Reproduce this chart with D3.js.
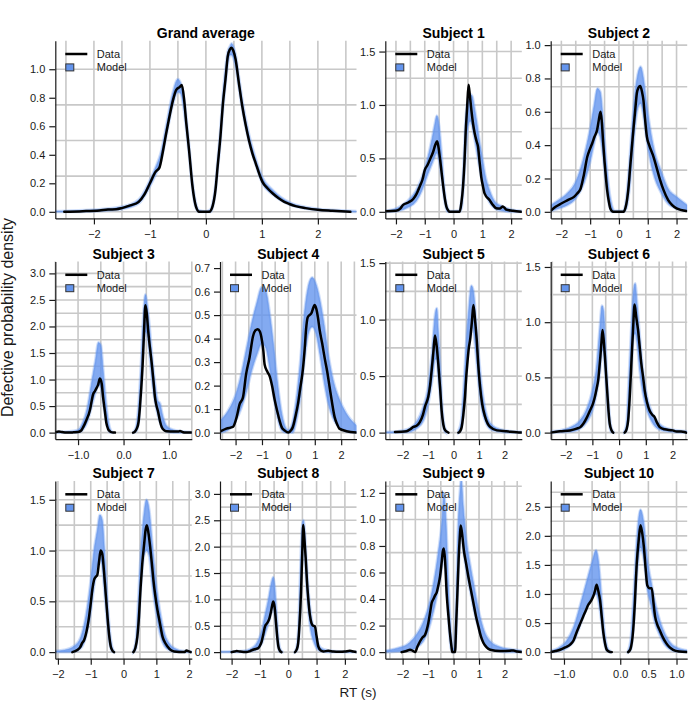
<!DOCTYPE html>
<html><head><meta charset="utf-8">
<script src="https://cdn.jsdelivr.net/npm/d3@7"></script>
<style>body{margin:0;background:#fff}svg{display:block}</style>
</head><body>
<script>
// ---------- DATA ----------
const titles = ["Grand average","Subject 1","Subject 2","Subject 3","Subject 4","Subject 5","Subject 6","Subject 7","Subject 8","Subject 9","Subject 10"];
const xLims = [[-2.69,2.69],[-2.37,2.37],[-2.37,2.37],[-1.5,1.5],[-2.59,2.58],[-2.68,2.68],[-2.56,2.55],[-2.08,2.08],[-2.41,2.41],[-2.68,2.68],[-1.236,1.19]];
const yMaxes = [1.154,1.54,0.987,3.1,0.70,1.456,1.49,1.62,3.12,1.24,2.83];
const xTickVals = [[-2,-1,0,1,2],[-2,-1,0,1,2],[-2,-1,0,1,2],[-1,0,1],[-2,-1,0,1,2],[-2,-1,0,1,2],[-2,-1,0,1,2],[-2,-1,0,1,2],[-2,-1,0,1,2],[-2,-1,0,1,2],[-1,0,0.5,1]];
const xTickFmt = ["d","d","d",".1f","d","d","d","d","d","d",".1f"];
const yTickVals = [[0,0.2,0.4,0.6,0.8,1.0],[0,0.5,1.0,1.5],[0,0.2,0.4,0.6,0.8,1.0],[0,0.5,1,1.5,2,2.5,3],[0,0.1,0.2,0.3,0.4,0.5,0.6,0.7],[0,0.5,1,1.5],[0,0.5,1,1.5],[0,0.5,1,1.5],[0,0.5,1,1.5,2,2.5,3],[0,0.2,0.4,0.6,0.8,1.0,1.2],[0,0.5,1,1.5,2,2.5]];
const legendLabels = ["Data","Model"];
const xLabel = "RT (s)";
const yLabel = "Defective probability density";

// observed density curves [x, density]; null = break
const gaData = [[-2.53,0],[-2.2,0.004],[-1.9,0.01],[-1.75,0.016],[-1.6,0.018],[-1.5,0.026],[-1.35,0.045],[-1.2,0.07],[-1.1,0.12],[-1.0,0.2],[-0.9,0.28],[-0.83,0.31],[-0.77,0.42],[-0.71,0.55],[-0.65,0.67],[-0.59,0.78],[-0.53,0.855],[-0.47,0.875],[-0.43,0.89],[-0.39,0.79],[-0.35,0.62],[-0.30,0.43],[-0.24,0.18],[-0.18,0.04],[-0.12,0],[0.06,0],[0.12,0.04],[0.17,0.15],[0.21,0.32],[0.26,0.53],[0.30,0.74],[0.35,0.93],[0.39,1.09],[0.43,1.14],[0.46,1.15],[0.49,1.13],[0.53,1.07],[0.59,0.90],[0.65,0.74],[0.71,0.61],[0.77,0.50],[0.83,0.41],[0.89,0.34],[0.95,0.27],[1.01,0.21],[1.1,0.165],[1.19,0.13],[1.3,0.095],[1.4,0.07],[1.49,0.055],[1.6,0.04],[1.78,0.026],[2.0,0.014],[2.26,0.007],[2.58,0]];
const s1Data = [[-2.37,0.005],[-2.0,0.01],[-1.85,0.03],[-1.75,0.065],[-1.57,0.087],[-1.4,0.12],[-1.28,0.17],[-1.17,0.24],[-1.08,0.3],[-1.0,0.39],[-0.9,0.44],[-0.82,0.49],[-0.71,0.56],[-0.63,0.63],[-0.57,0.66],[-0.52,0.6],[-0.48,0.52],[-0.42,0.38],[-0.36,0.24],[-0.3,0.12],[-0.25,0.05],[-0.18,0.01],[-0.13,0],[0.21,0],[0.27,0.08],[0.33,0.24],[0.38,0.47],[0.42,0.74],[0.47,0.97],[0.52,1.19],[0.57,1.08],[0.62,0.95],[0.68,0.82],[0.73,0.74],[0.8,0.66],[0.85,0.61],[0.9,0.48],[0.96,0.33],[1.02,0.24],[1.08,0.17],[1.25,0.11],[1.38,0.06],[1.48,0.034],[1.6,0.03],[1.71,0.05],[1.78,0.035],[1.83,0.02],[2.06,0.01],[2.35,0]];
const s2Data = [[-2.34,0.01],[-2.2,0.03],[-2.0,0.05],[-1.78,0.07],[-1.56,0.09],[-1.45,0.11],[-1.33,0.14],[-1.22,0.22],[-1.1,0.33],[-1.0,0.38],[-0.93,0.41],[-0.85,0.45],[-0.76,0.49],[-0.7,0.55],[-0.64,0.6],[-0.6,0.55],[-0.55,0.42],[-0.5,0.3],[-0.45,0.2],[-0.41,0.13],[-0.35,0.06],[-0.3,0.02],[-0.2,0],[0.16,0],[0.22,0.02],[0.28,0.07],[0.34,0.16],[0.39,0.27],[0.45,0.39],[0.51,0.51],[0.57,0.62],[0.62,0.71],[0.68,0.745],[0.74,0.755],[0.8,0.72],[0.85,0.67],[0.9,0.57],[0.97,0.45],[1.05,0.4],[1.2,0.33],[1.3,0.27],[1.43,0.19],[1.55,0.13],[1.71,0.07],[1.85,0.04],[2.0,0.02],[2.34,0.005]];
const s3Data = [[-1.49,0.01],[-1.42,0.02],[-1.35,0.01],[-1.26,0],[-1.1,0.005],[-1.0,0.01],[-0.93,0.04],[-0.89,0.1],[-0.82,0.23],[-0.74,0.42],[-0.7,0.6],[-0.67,0.72],[-0.63,0.78],[-0.6,0.83],[-0.56,0.9],[-0.52,1.02],[-0.48,0.92],[-0.45,0.67],[-0.41,0.4],[-0.375,0.17],[-0.34,0.07],[-0.3,0.025],[-0.25,0.005],[-0.19,0],null,[0.21,0],[0.25,0.02],[0.29,0.075],[0.33,0.2],[0.36,0.48],[0.39,0.85],[0.42,1.3],[0.45,1.9],[0.48,2.4],[0.51,2.25],[0.54,1.93],[0.58,1.6],[0.62,1.3],[0.66,0.95],[0.69,0.67],[0.72,0.52],[0.76,0.39],[0.8,0.22],[0.84,0.1],[0.9,0.04],[0.95,0.025],[1.1,0.02],[1.2,0.02],[1.24,0.03],[1.3,0.01],[1.35,0],[1.5,0]];
const s4Data = [[-2.54,0.007],[-2.35,0.017],[-2.1,0.024],[-1.95,0.07],[-1.85,0.12],[-1.72,0.15],[-1.6,0.25],[-1.47,0.32],[-1.34,0.41],[-1.25,0.435],[-1.16,0.44],[-1.08,0.43],[-1.03,0.41],[-0.95,0.35],[-0.9,0.29],[-0.8,0.26],[-0.71,0.24],[-0.62,0.2],[-0.52,0.14],[-0.42,0.09],[-0.33,0.05],[-0.24,0.02],[-0.15,0.01],[0,0],[0.1,0.01],[0.17,0.024],[0.27,0.07],[0.36,0.12],[0.45,0.19],[0.55,0.27],[0.62,0.36],[0.67,0.44],[0.73,0.49],[0.8,0.5],[0.88,0.51],[0.94,0.53],[0.99,0.543],[1.05,0.53],[1.12,0.49],[1.18,0.44],[1.28,0.38],[1.37,0.32],[1.47,0.26],[1.56,0.195],[1.65,0.13],[1.75,0.067],[1.85,0.035],[1.93,0.017],[2.2,0.006],[2.57,0]];
const s5Data = [[-2.3,0.006],[-1.84,0.012],[-1.7,0.03],[-1.58,0.05],[-1.45,0.06],[-1.32,0.095],[-1.2,0.16],[-1.12,0.23],[-0.99,0.32],[-0.92,0.42],[-0.86,0.55],[-0.79,0.72],[-0.73,0.86],[-0.67,0.78],[-0.6,0.61],[-0.53,0.4],[-0.47,0.2],[-0.4,0.07],[-0.33,0.02],[-0.2,0],null,[0.19,0],[0.25,0.01],[0.32,0.05],[0.38,0.15],[0.45,0.32],[0.5,0.5],[0.54,0.61],[0.6,0.75],[0.65,0.82],[0.72,0.98],[0.78,1.13],[0.85,0.98],[0.91,0.82],[0.97,0.6],[1.04,0.41],[1.12,0.26],[1.24,0.14],[1.34,0.08],[1.44,0.05],[1.7,0.02],[2.09,0.012],[2.48,0.003],[2.68,0]];
const s6Data = [[-2.56,0],[-2.21,0.012],[-1.84,0.02],[-1.59,0.036],[-1.45,0.05],[-1.34,0.08],[-1.2,0.14],[-1.09,0.2],[-0.98,0.26],[-0.91,0.32],[-0.84,0.4],[-0.78,0.48],[-0.74,0.58],[-0.7,0.69],[-0.66,0.82],[-0.62,0.93],[-0.57,0.82],[-0.53,0.69],[-0.48,0.5],[-0.43,0.32],[-0.39,0.18],[-0.35,0.08],[-0.28,0.02],[-0.22,0],null,[0.21,0],[0.28,0.03],[0.34,0.11],[0.4,0.33],[0.46,0.63],[0.52,0.92],[0.58,1.16],[0.64,1.05],[0.71,0.93],[0.77,0.78],[0.83,0.63],[0.9,0.5],[0.96,0.38],[1.05,0.27],[1.14,0.2],[1.25,0.16],[1.33,0.14],[1.42,0.09],[1.52,0.05],[1.7,0.03],[2.01,0.02],[2.15,0.01],[2.32,0.01],[2.45,0.005],[2.51,0]];
const s7Data = [[-1.56,0],[-1.41,0.02],[-1.32,0.05],[-1.26,0.09],[-1.2,0.12],[-1.1,0.25],[-1.05,0.35],[-1.0,0.48],[-0.95,0.62],[-0.9,0.71],[-0.85,0.74],[-0.8,0.76],[-0.75,0.88],[-0.7,1.0],[-0.65,0.97],[-0.6,0.81],[-0.55,0.6],[-0.49,0.35],[-0.44,0.17],[-0.39,0.056],[-0.33,0.01],[-0.29,0],null,[0.3,0],[0.36,0.04],[0.42,0.15],[0.47,0.35],[0.52,0.64],[0.57,0.87],[0.63,1.07],[0.67,1.2],[0.71,1.25],[0.76,1.17],[0.81,1.04],[0.86,0.88],[0.91,0.71],[0.97,0.55],[1.03,0.42],[1.1,0.3],[1.19,0.15],[1.27,0.09],[1.34,0.056],[1.44,0.02],[1.54,0.007],[1.85,0],[1.92,0.016],[1.97,0.01],[2.05,0]];
const s8Data = [[-2.0,0],[-1.9,0.01],[-1.82,0.02],[-1.7,0.01],[-1.47,0],[-1.35,0.02],[-1.24,0.045],[-1.15,0.06],[-1.06,0.076],[-1.0,0.12],[-0.94,0.2],[-0.88,0.34],[-0.82,0.49],[-0.76,0.54],[-0.71,0.58],[-0.66,0.65],[-0.62,0.74],[-0.57,0.88],[-0.53,0.96],[-0.48,0.85],[-0.44,0.61],[-0.4,0.35],[-0.35,0.11],[-0.3,0.03],[-0.24,0],null,[0.24,0],[0.3,0.05],[0.35,0.17],[0.4,0.55],[0.45,1.12],[0.49,1.8],[0.53,2.41],[0.57,2.15],[0.62,1.75],[0.66,1.35],[0.71,0.99],[0.76,0.72],[0.82,0.55],[0.88,0.5],[0.94,0.49],[1.0,0.3],[1.06,0.11],[1.15,0.03],[1.24,0.013],[1.41,0.025],[1.59,0.01],[1.8,0.005],[2.0,0.01],[2.18,0.025],[2.3,0.01],[2.41,0]];
const s9Data = [[-2.04,0],[-1.85,0.008],[-1.71,0.018],[-1.6,0.01],[-1.51,0],[-1.42,0.04],[-1.32,0.08],[-1.22,0.11],[-1.12,0.13],[-1.05,0.17],[-0.99,0.22],[-0.92,0.3],[-0.86,0.37],[-0.79,0.4],[-0.72,0.43],[-0.66,0.45],[-0.6,0.5],[-0.53,0.57],[-0.47,0.67],[-0.42,0.76],[-0.38,0.78],[-0.33,0.68],[-0.27,0.44],[-0.2,0.27],[-0.14,0.14],[-0.08,0.04],[-0.05,0],[0.06,0],[0.1,0.2],[0.15,0.44],[0.2,0.7],[0.25,0.88],[0.28,0.955],[0.33,0.9],[0.41,0.76],[0.5,0.66],[0.58,0.57],[0.68,0.47],[0.78,0.37],[0.88,0.27],[0.98,0.19],[1.07,0.12],[1.17,0.07],[1.3,0.035],[1.44,0.018],[1.83,0.008],[2.2,0.01],[2.35,0.013],[2.5,0.004],[2.68,0]];
const s10Data = [[-1.24,0],[-1.15,0.02],[-1.07,0.04],[-0.98,0.08],[-0.89,0.13],[-0.83,0.2],[-0.78,0.33],[-0.72,0.47],[-0.66,0.61],[-0.61,0.72],[-0.57,0.81],[-0.52,0.88],[-0.48,0.96],[-0.45,1.05],[-0.42,1.16],[-0.39,1.05],[-0.36,0.9],[-0.33,0.62],[-0.3,0.33],[-0.27,0.15],[-0.24,0.04],[-0.2,0.01],[-0.15,0],null,[0.14,0],[0.18,0.05],[0.23,0.38],[0.26,0.85],[0.29,1.47],[0.33,1.95],[0.36,2.18],[0.39,2.05],[0.42,1.81],[0.45,1.45],[0.48,1.15],[0.52,1.1],[0.56,1.1],[0.59,0.85],[0.62,0.61],[0.66,0.47],[0.7,0.38],[0.76,0.25],[0.82,0.15],[0.88,0.08],[0.94,0.04],[1.05,0.01],[1.18,0]];

// model posterior-predictive envelopes [x, lower, upper]; null = break
const gaBand = [[-2.69,0,0.004],[-2.5,0,0.006],[-2.0,0.004,0.014],[-1.5,0.02,0.035],[-1.2,0.06,0.085],[-1.0,0.18,0.22],[-0.9,0.26,0.31],[-0.8,0.36,0.42],[-0.7,0.55,0.62],[-0.6,0.74,0.82],[-0.5,0.84,0.93],[-0.45,0.83,0.9],[-0.4,0.74,0.82],[-0.35,0.58,0.66],[-0.3,0.4,0.46],[-0.24,0.16,0.21],[-0.18,0.03,0.06],[-0.12,0,0.01],[0,0,0.003],[0.08,0,0.015],[0.12,0.03,0.06],[0.17,0.14,0.18],[0.21,0.3,0.36],[0.26,0.5,0.58],[0.3,0.7,0.8],[0.35,0.9,1.0],[0.39,1.04,1.12],[0.43,1.1,1.16],[0.46,1.1,1.18],[0.49,1.08,1.16],[0.53,1.02,1.1],[0.59,0.87,0.94],[0.65,0.72,0.78],[0.77,0.49,0.54],[0.89,0.33,0.37],[1.01,0.2,0.24],[1.2,0.12,0.15],[1.5,0.05,0.065],[2.0,0.012,0.02],[2.5,0.003,0.008],[2.69,0,0.004]];
const s1Band = [[-2.37,0,0.01],[-2.0,0.005,0.03],[-1.6,0.04,0.1],[-1.3,0.1,0.2],[-1.1,0.2,0.32],[-0.9,0.35,0.5],[-0.75,0.45,0.68],[-0.65,0.52,0.82],[-0.58,0.55,0.9],[-0.5,0.48,0.8],[-0.42,0.33,0.55],[-0.35,0.18,0.3],[-0.28,0.06,0.12],[-0.2,0,0.03],[-0.12,0,0.005],[0.2,0,0.01],[0.28,0.04,0.12],[0.35,0.25,0.45],[0.42,0.55,0.85],[0.5,0.8,1.05],[0.58,0.85,1.1],[0.65,0.8,1.08],[0.72,0.7,0.98],[0.8,0.58,0.85],[0.9,0.42,0.66],[1.0,0.28,0.5],[1.1,0.18,0.34],[1.25,0.09,0.2],[1.45,0.03,0.09],[1.7,0.01,0.05],[2.0,0,0.02],[2.37,0,0.008]];
const s2Band = [[-2.37,0.005,0.04],[-2.1,0.02,0.07],[-1.8,0.04,0.11],[-1.5,0.08,0.18],[-1.2,0.18,0.34],[-1.0,0.3,0.5],[-0.85,0.42,0.65],[-0.75,0.48,0.74],[-0.65,0.45,0.72],[-0.55,0.33,0.55],[-0.45,0.17,0.32],[-0.35,0.05,0.14],[-0.25,0,0.04],[-0.15,0,0.005],[0.15,0,0.005],[0.25,0.02,0.07],[0.35,0.12,0.26],[0.45,0.3,0.5],[0.55,0.5,0.7],[0.65,0.62,0.82],[0.75,0.65,0.87],[0.85,0.58,0.8],[0.95,0.45,0.66],[1.1,0.3,0.48],[1.25,0.2,0.35],[1.45,0.12,0.25],[1.7,0.05,0.14],[2.0,0.02,0.09],[2.37,0.005,0.04]];
const s3Band = [[-1.5,0,0.01],[-1.2,0,0.02],[-1.0,0.005,0.05],[-0.9,0.05,0.18],[-0.8,0.2,0.45],[-0.7,0.5,0.95],[-0.62,0.75,1.35],[-0.55,0.9,1.7],[-0.5,0.85,1.65],[-0.45,0.6,1.2],[-0.4,0.3,0.7],[-0.35,0.1,0.3],[-0.3,0.01,0.08],[-0.25,0,0.01],null,[0.22,0,0.01],[0.28,0.03,0.12],[0.33,0.2,0.5],[0.38,0.7,1.2],[0.43,1.5,2.1],[0.48,1.9,2.6],[0.52,1.85,2.4],[0.57,1.5,2.0],[0.62,1.05,1.5],[0.68,0.65,1.0],[0.75,0.35,0.6],[0.8,0.2,0.55],[0.85,0.1,0.35],[0.95,0.02,0.12],[1.1,0,0.05],[1.3,0,0.02],[1.5,0,0.005]];
const s4Band = [[-2.59,0,0.05],[-2.3,0.01,0.09],[-2.0,0.05,0.16],[-1.8,0.1,0.24],[-1.6,0.17,0.35],[-1.4,0.26,0.46],[-1.2,0.33,0.55],[-1.0,0.38,0.62],[-0.85,0.36,0.6],[-0.7,0.27,0.5],[-0.55,0.15,0.36],[-0.4,0.06,0.2],[-0.25,0.01,0.08],[-0.1,0,0.02],[0,0,0.01],[0.15,0,0.04],[0.3,0.05,0.14],[0.45,0.15,0.3],[0.6,0.3,0.5],[0.75,0.42,0.62],[0.9,0.45,0.66],[1.05,0.42,0.63],[1.2,0.33,0.56],[1.35,0.22,0.46],[1.5,0.13,0.34],[1.7,0.06,0.22],[1.9,0.025,0.15],[2.2,0.005,0.08],[2.58,0,0.03]];
const s5Band = [[-2.68,0,0.005],[-2.2,0,0.01],[-1.8,0.005,0.03],[-1.5,0.03,0.08],[-1.2,0.1,0.22],[-1.0,0.25,0.4],[-0.85,0.45,0.7],[-0.72,0.65,1.05],[-0.66,0.65,1.1],[-0.6,0.5,0.9],[-0.52,0.3,0.55],[-0.45,0.12,0.25],[-0.38,0.03,0.08],[-0.3,0,0.02],null,[0.2,0,0.02],[0.3,0.03,0.1],[0.4,0.2,0.4],[0.5,0.5,0.8],[0.6,0.78,1.1],[0.7,0.95,1.3],[0.78,0.9,1.25],[0.88,0.7,1.0],[1.0,0.4,0.65],[1.12,0.2,0.38],[1.25,0.1,0.2],[1.45,0.03,0.08],[1.8,0.01,0.03],[2.3,0,0.01],[2.68,0,0.005]];
const s6Band = [[-2.56,0,0.01],[-2.2,0.005,0.02],[-1.8,0.01,0.05],[-1.5,0.03,0.1],[-1.2,0.1,0.22],[-1.0,0.2,0.38],[-0.85,0.35,0.58],[-0.72,0.55,0.95],[-0.64,0.75,1.15],[-0.58,0.72,1.1],[-0.52,0.55,0.85],[-0.45,0.3,0.5],[-0.38,0.1,0.22],[-0.3,0.01,0.05],[-0.22,0,0.01],null,[0.2,0,0.01],[0.28,0.02,0.08],[0.36,0.2,0.45],[0.45,0.55,0.9],[0.53,0.85,1.25],[0.6,0.9,1.35],[0.68,0.8,1.15],[0.78,0.55,0.85],[0.9,0.35,0.55],[1.05,0.2,0.32],[1.25,0.09,0.17],[1.5,0.03,0.08],[1.9,0.01,0.03],[2.55,0,0.01]];
const s7Band = [[-2.08,0,0.01],[-1.8,0,0.02],[-1.5,0.005,0.06],[-1.3,0.04,0.15],[-1.15,0.15,0.35],[-1.0,0.4,0.7],[-0.9,0.65,1.0],[-0.8,0.85,1.2],[-0.72,0.92,1.35],[-0.65,0.85,1.3],[-0.58,0.6,1.0],[-0.5,0.3,0.55],[-0.42,0.08,0.2],[-0.35,0.01,0.05],[-0.3,0,0.01],null,[0.3,0,0.01],[0.38,0.04,0.12],[0.45,0.25,0.5],[0.53,0.65,1.0],[0.62,0.95,1.35],[0.7,1.0,1.5],[0.78,0.95,1.4],[0.88,0.65,1.05],[1.0,0.38,0.65],[1.12,0.17,0.38],[1.25,0.06,0.18],[1.4,0.02,0.08],[1.6,0,0.03],[1.8,0,0.01],[2.08,0,0.005]];
const s8Band = [[-2.41,0,0.005],[-2.0,0,0.01],[-1.6,0,0.02],[-1.3,0.02,0.07],[-1.1,0.06,0.18],[-0.95,0.15,0.38],[-0.82,0.35,0.7],[-0.7,0.55,1.0],[-0.6,0.75,1.3],[-0.53,0.85,1.42],[-0.47,0.7,1.2],[-0.41,0.35,0.7],[-0.35,0.08,0.25],[-0.28,0,0.05],[-0.22,0,0.01],null,[0.24,0,0.01],[0.3,0.03,0.1],[0.36,0.2,0.45],[0.42,0.8,1.4],[0.48,1.7,2.3],[0.53,2.2,2.5],[0.58,1.9,2.3],[0.64,1.3,1.75],[0.72,0.75,1.1],[0.8,0.4,0.7],[0.9,0.2,0.45],[1.0,0.08,0.25],[1.15,0.02,0.08],[1.4,0,0.03],[1.8,0,0.01],[2.41,0,0.005]];
const s9Band = [[-2.68,0,0.01],[-2.2,0.005,0.03],[-1.8,0.01,0.06],[-1.5,0.03,0.12],[-1.2,0.08,0.22],[-1.0,0.16,0.33],[-0.8,0.3,0.5],[-0.6,0.48,0.75],[-0.45,0.65,1.0],[-0.38,0.75,1.2],[-0.3,0.6,1.0],[-0.2,0.25,0.5],[-0.1,0.03,0.15],[-0.03,0,0.03],[0.03,0,0.03],[0.1,0.12,0.35],[0.18,0.55,0.95],[0.25,0.85,1.2],[0.3,0.9,1.3],[0.38,0.78,1.1],[0.5,0.62,0.85],[0.65,0.47,0.66],[0.8,0.32,0.5],[1.0,0.17,0.3],[1.2,0.07,0.16],[1.45,0.02,0.08],[1.8,0.005,0.04],[2.3,0,0.02],[2.68,0,0.01]];
const s10Band = [[-1.24,0,0.02],[-1.1,0.02,0.07],[-0.95,0.07,0.2],[-0.82,0.2,0.45],[-0.7,0.5,0.85],[-0.6,0.75,1.2],[-0.5,0.95,1.55],[-0.43,1.0,1.75],[-0.38,0.85,1.5],[-0.33,0.5,0.9],[-0.28,0.15,0.35],[-0.23,0.02,0.08],[-0.18,0,0.02],null,[0.14,0,0.02],[0.19,0.05,0.25],[0.24,0.5,1.0],[0.3,1.4,2.0],[0.36,1.8,2.45],[0.42,1.6,2.2],[0.48,1.1,1.6],[0.55,0.8,1.2],[0.62,0.5,0.85],[0.7,0.3,0.55],[0.8,0.12,0.3],[0.9,0.04,0.15],[1.0,0.01,0.08],[1.19,0,0.03]];

const dataCurves = [gaData,s1Data,s2Data,s3Data,s4Data,s5Data,s6Data,s7Data,s8Data,s9Data,s10Data];
const modelBands = [gaBand,s1Band,s2Band,s3Band,s4Band,s5Band,s6Band,s7Band,s8Band,s9Band,s10Band];

// ---------- LAYOUT ----------
const W = 688, H = 702;
const FONT = "'Liberation Sans', Arial, Helvetica, sans-serif";
const colLeft = [55.3, 220, 385.3, 550.7], plotW = 136.5;
const rowTop = [40.7, 261.5, 481], plotH = 177.7;
const cells = [[0,0,2],[2,0,1],[3,0,1],[0,1,1],[1,1,1],[2,1,1],[3,1,1],[0,2,1],[1,2,1],[2,2,1],[3,2,1]];
const BLUE = "#6495ED", INK = "#1a1a1a", GRID = "#c8c8c8";

const svg = d3.select("body").append("svg").attr("width", W).attr("height", H)
  .style("font-family", FONT);

titles.forEach((title, i) => {
  const [c, r, span] = cells[i];
  const L = colLeft[c], R = colLeft[c + span - 1] + plotW, T = rowTop[r], B = T + plotH;
  const M = yMaxes[i];
  const x = d3.scaleLinear().domain(xLims[i]).range([L, R]);
  const y = d3.scaleLinear().domain([-0.04 * M, 1.04 * M]).range([B, T]);
  const g = svg.append("g");

  g.append("clipPath").attr("id", "clip" + i).append("rect")
    .attr("x", L).attr("y", T).attr("width", R - L).attr("height", B - T);

  // grid: every 0.5 on x, every 0.25 on y
  const gxv = d3.range(Math.ceil(xLims[i][0] / 0.5), Math.floor(xLims[i][1] / 0.5) + 1).map(k => k * 0.5);
  const gyv = d3.range(0, Math.floor(1.04 * M / 0.25) + 1).map(k => k * 0.25);
  g.append("g").selectAll("line").data(gxv).join("line")
    .attr("x1", d => x(d)).attr("x2", d => x(d)).attr("y1", T).attr("y2", B)
    .attr("stroke", GRID).attr("stroke-width", 1.6);
  g.append("g").selectAll("line").data(gyv).join("line")
    .attr("x1", L).attr("x2", R).attr("y1", d => y(d)).attr("y2", d => y(d))
    .attr("stroke", GRID).attr("stroke-width", 1.6);

  const plot = g.append("g").attr("clip-path", `url(#clip${i})`);
  const area = d3.area().defined(d => d).x(d => x(d[0])).y0(d => y(d[1])).y1(d => y(d[2])).curve(d3.curveMonotoneX);
  // soft fringe of the simulated-density bundle
  plot.append("path").datum(modelBands[i]).attr("d", area)
    .attr("fill", "none").attr("stroke", BLUE).attr("stroke-opacity", 0.3).attr("stroke-width", 3);
  plot.append("path").datum(modelBands[i]).attr("d", area)
    .attr("fill", BLUE).attr("fill-opacity", 0.8)
    .attr("stroke", BLUE).attr("stroke-opacity", 0.5).attr("stroke-width", 1);
  const line = d3.line().defined(d => d).x(d => x(d[0])).y(d => y(d[1])).curve(d3.curveMonotoneX);
  plot.append("path").datum(dataCurves[i]).attr("d", line)
    .attr("fill", "none").attr("stroke", "#000").attr("stroke-width", 2.5)
    .attr("stroke-linejoin", "round").attr("stroke-linecap", "round");

  // axes
  const ax = g.append("g").attr("transform", `translate(0,${B})`)
    .call(d3.axisBottom(x).tickValues(xTickVals[i]).tickFormat(d3.format(xTickFmt[i])).tickSize(6).tickSizeOuter(0).tickPadding(6));
  const ay = g.append("g").attr("transform", `translate(${L},0)`)
    .call(d3.axisLeft(y).tickValues(yTickVals[i]).tickFormat(d3.format(".1f")).tickSize(6).tickSizeOuter(0).tickPadding(4));
  [ax, ay].forEach(a => {
    a.selectAll("path,line").attr("stroke", INK).attr("stroke-width", 1.2);
    a.selectAll("text").attr("fill", INK).style("font-size", "11px").style("font-family", FONT);
  });

  // title
  g.append("text").attr("x", (L + R) / 2).attr("y", T - 3).attr("text-anchor", "middle")
    .style("font-size", "14px").style("font-weight", "bold").attr("fill", "#000").text(title);

  // legend
  g.append("line").attr("x1", L + 10).attr("x2", L + 32).attr("y1", T + 13.3).attr("y2", T + 13.3)
    .attr("stroke", "#000").attr("stroke-width", 2.5);
  g.append("rect").attr("x", L + 10.5).attr("y", T + 23.2).attr("width", 8).attr("height", 7)
    .attr("fill", BLUE).attr("stroke", "#333").attr("stroke-width", 1);
  g.append("text").attr("x", L + 41.5).attr("y", T + 13.3).attr("dominant-baseline", "central")
    .style("font-size", "11px").attr("fill", INK).text(legendLabels[0]);
  g.append("text").attr("x", L + 41.5).attr("y", T + 26.3).attr("dominant-baseline", "central")
    .style("font-size", "11px").attr("fill", INK).text(legendLabels[1]);
});

svg.append("text").attr("x", 358).attr("y", 697).attr("text-anchor", "middle")
  .style("font-size", "13.5px").attr("fill", INK).text(xLabel);
svg.append("text").attr("transform", "translate(12.5,317.5) rotate(-90)").attr("text-anchor", "middle")
  .style("font-size", "16px").attr("fill", INK).text(yLabel);
</script>
</body></html>
